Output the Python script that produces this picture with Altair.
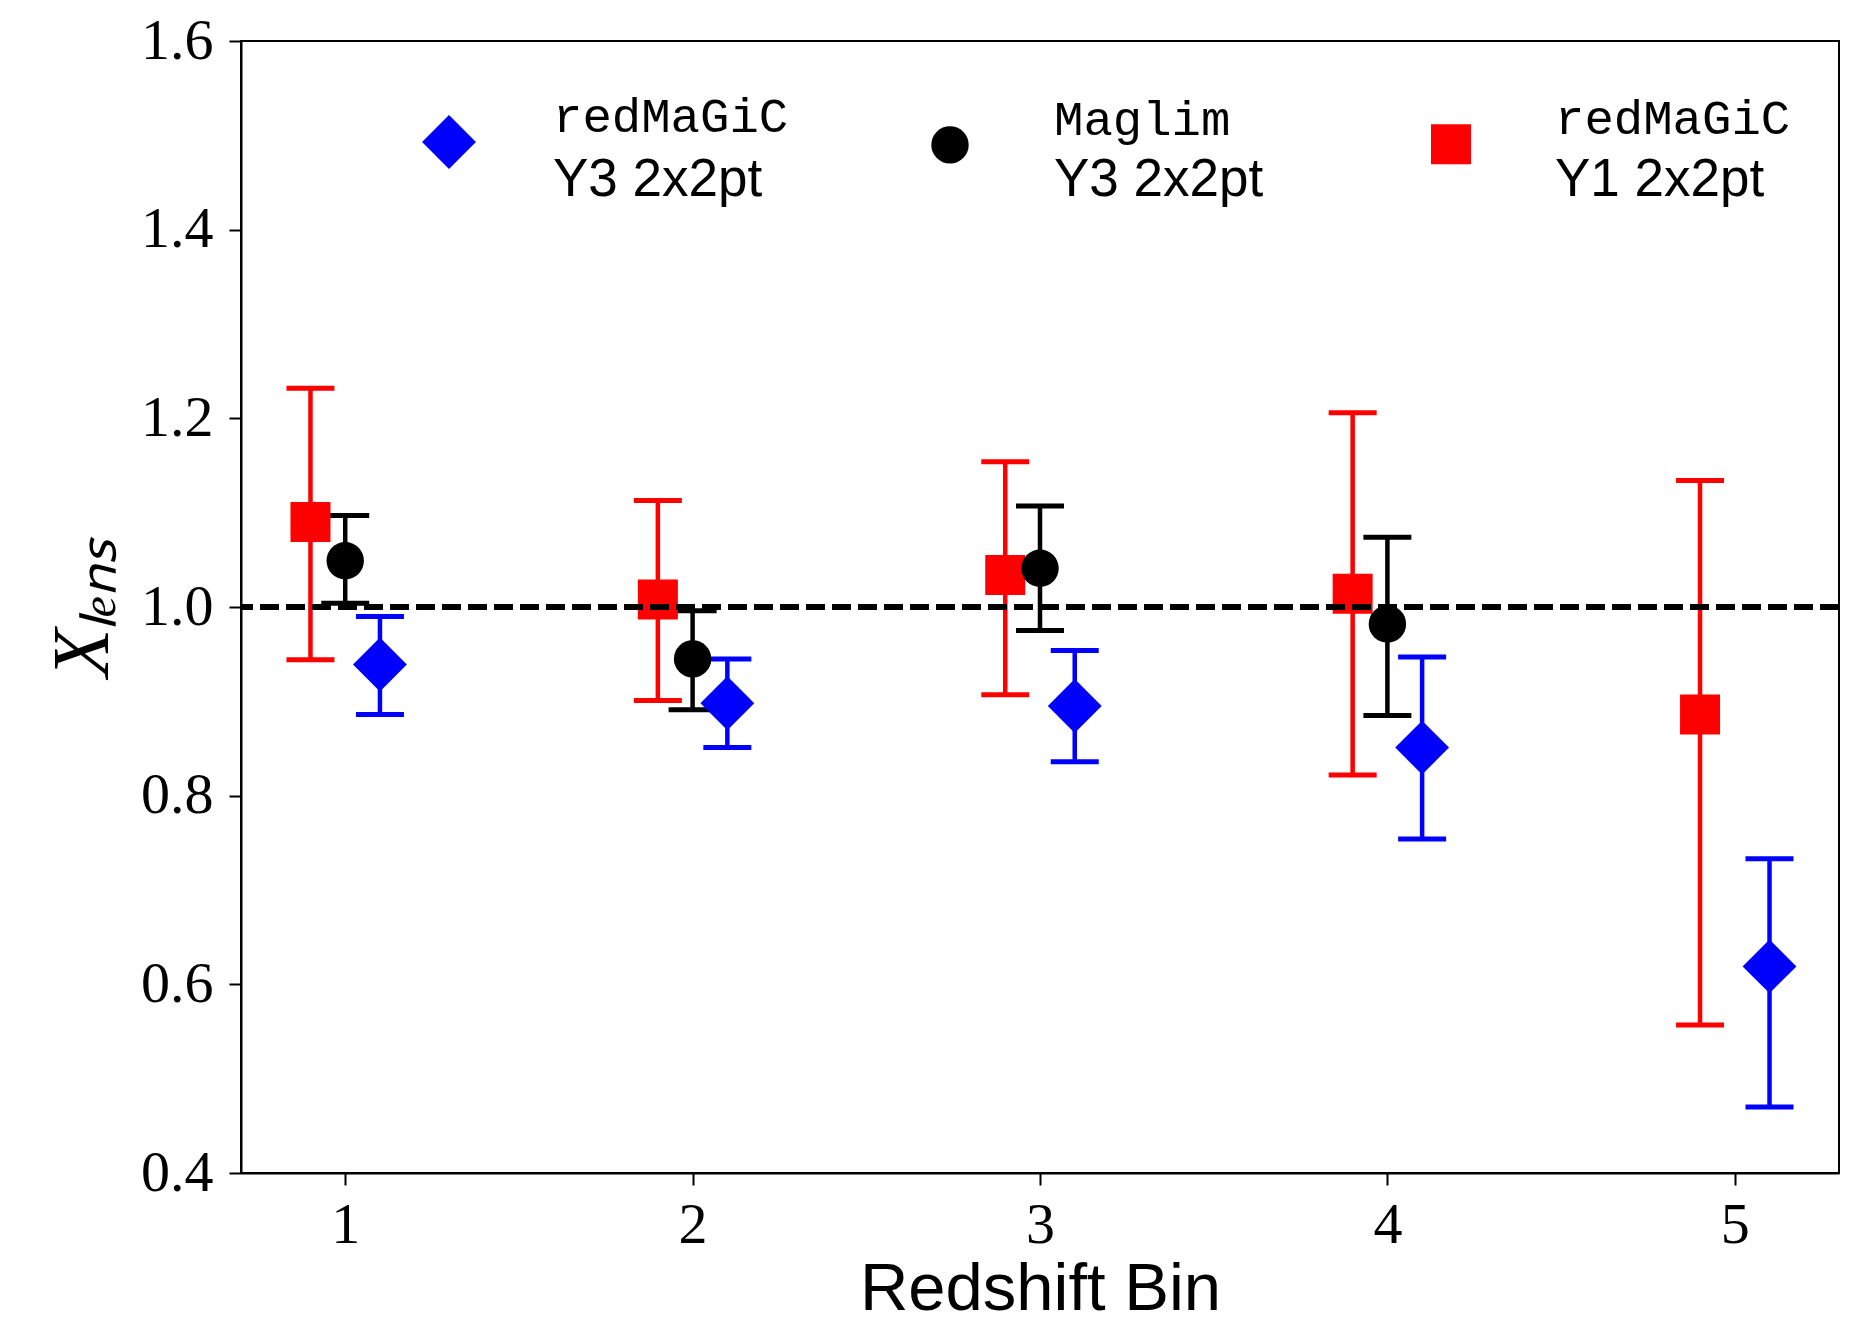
import altair as alt
import pandas as pd

# ---------------- data ----------------
bins_all = [1, 2, 3, 4, 5]
bins_maglim = [1, 2, 3, 4]

# redMaGiC Y3 2x2pt (blue diamonds)
rm_y3_val = [0.939, 0.898, 0.895, 0.851, 0.619]
rm_y3_lo = [0.886, 0.851, 0.836, 0.754, 0.470]
rm_y3_hi = [0.990, 0.945, 0.954, 0.947, 0.733]

# Maglim Y3 2x2pt (black circles)
ml_y3_val = [1.049, 0.945, 1.041, 0.982]
ml_y3_lo = [1.004, 0.891, 0.975, 0.885]
ml_y3_hi = [1.097, 0.996, 1.107, 1.074]

# redMaGiC Y1 2x2pt (red squares)
rm_y1_val = [1.090, 1.008, 1.034, 1.014, 0.886]
rm_y1_lo = [0.944, 0.901, 0.907, 0.822, 0.557]
rm_y1_hi = [1.232, 1.113, 1.154, 1.206, 1.134]

legend_line1 = ["redMaGiC", "Maglim", "redMaGiC"]
legend_line2 = ["Y3 2x2pt", "Y3 2x2pt", "Y1 2x2pt"]
x_ticks = [1, 2, 3, 4, 5]
y_ticks = [0.4, 0.6, 0.8, 1.0, 1.2, 1.4, 1.6]
ref_line = [1.0]

# ---------------- styling ----------------
series_keys = [f"{a}|{b}" for a, b in zip(legend_line1, legend_line2)]
series_keys2 = [f"{i}|{b}" for i, b in enumerate(legend_line2)]
colors = ["#0000ff", "#000000", "#ff0000"]
shapes = ["diamond", "circle", "square"]
sizes = [2900, 1400, 1600]
x_shift = [0.1, 0.0, -0.1]

rows = []


def add(idx, bins, val, lo, hi):
    for b, v, l, h in zip(bins, val, lo, hi):
        rows.append(dict(series=series_keys[idx], series2=series_keys2[idx],
                         x=b + x_shift[idx], val=v, lo=l, hi=h))


# draw order: red, black, blue
add(2, bins_all, rm_y1_val, rm_y1_lo, rm_y1_hi)
add(1, bins_maglim, ml_y3_val, ml_y3_lo, ml_y3_hi)
add(0, bins_all, rm_y3_val, rm_y3_lo, rm_y3_hi)
df = pd.DataFrame(rows)

xs = alt.Scale(domain=[0.7, 5.3], nice=False, zero=False)
ys = alt.Scale(domain=[0.4, 1.6], nice=False, zero=False)
cs = alt.Scale(domain=series_keys, range=colors)

Y_TITLE = "X\u2097\u2091\u2099\u209b"

x_axis = alt.Axis(values=x_ticks, format="d", title="Redshift Bin",
                  labelFont="Liberation Serif", labelFontSize=58, labelPadding=11,
                  titleFont="Liberation Sans", titleFontSize=67, titleFontWeight="normal",
                  titlePadding=2)
y_axis = alt.Axis(values=y_ticks, format=".1f", title=Y_TITLE,
                  labelFont="Liberation Serif", labelFontSize=58, labelPadding=16,
                  titleFont="Liberation Serif", titleFontSize=80, titleFontStyle="italic",
                  titleFontWeight="normal", titlePadding=16)

X = alt.X("x:Q", scale=xs, axis=x_axis)

legend1 = alt.Legend(title=None, orient="none", legendX=181, legendY=74,
                     direction="horizontal", columns=3, gridAlign="all",
                     columnPadding=134, padding=0,
                     labelFont="Liberation Mono", labelFontSize=49, labelColor="black",
                     labelBaseline="bottom", labelOffset=77, labelLimit=500,
                     labelExpr="split(datum.label, '|')[0]",
                     symbolStrokeWidth=0, symbolOpacity=1)
legend2 = alt.Legend(title=None, orient="none", legendX=181, legendY=86,
                     direction="horizontal", columns=3, gridAlign="all",
                     columnPadding=160, padding=0,
                     labelFont="Liberation Sans", labelFontSize=53, labelColor="black",
                     labelBaseline="top", labelOffset=77, labelLimit=500,
                     labelExpr="split(datum.label, '|')[1]",
                     symbolSize=2900, symbolOpacity=0, symbolStrokeWidth=0)

base = alt.Chart(df)
C = alt.Color("series:N", scale=cs)

bars = base.mark_rule(strokeWidth=4.5, opacity=1).encode(
    x=X,
    y=alt.Y("lo:Q", scale=ys, axis=y_axis),
    y2="hi:Q",
    color=C,
)
caps_lo = base.mark_tick(orient="horizontal", size=48, thickness=5, opacity=1).encode(
    x=X,
    y=alt.Y("lo:Q", scale=ys, axis=y_axis),
    color=C,
)
caps_hi = base.mark_tick(orient="horizontal", size=48, thickness=5, opacity=1).encode(
    x=X,
    y=alt.Y("hi:Q", scale=ys, axis=y_axis),
    color=C,
)
points = base.mark_point(filled=True, opacity=1).encode(
    x=X,
    y=alt.Y("val:Q", scale=ys, axis=y_axis),
    color=alt.Color("series:N", scale=cs, legend=legend1),
    shape=alt.Shape("series:N", scale=alt.Scale(domain=series_keys, range=shapes), legend=legend1),
    size=alt.Size("series:N", scale=alt.Scale(type="ordinal", domain=series_keys, range=sizes),
                  legend=legend1),
    strokeDash=alt.StrokeDash("series2:N",
                              scale=alt.Scale(domain=series_keys2, range=[[1, 0], [1, 0], [1, 0]]),
                              legend=legend2),
)
dashed = alt.Chart(pd.DataFrame({"ref": ref_line})).mark_rule(
    strokeDash=[19, 7], strokeWidth=6, color="black"
).encode(y=alt.Y("ref:Q", scale=ys, axis=y_axis))

chart = alt.layer(bars, caps_lo, caps_hi, points, dashed).properties(
    width=1598, height=1132,
    autosize=alt.AutoSizeParams(type="none"),
    padding={"left": 241, "top": 41, "right": 15, "bottom": 155},
    background="white",
).configure_view(
    stroke="black", strokeWidth=2
).configure_axis(
    grid=False, domainColor="black", domainWidth=2, tickColor="black",
    tickWidth=2, tickSize=12, labelColor="black", titleColor="black",
)

chart.save("out.html", embed_options={"renderer": "svg", "actions": False})
